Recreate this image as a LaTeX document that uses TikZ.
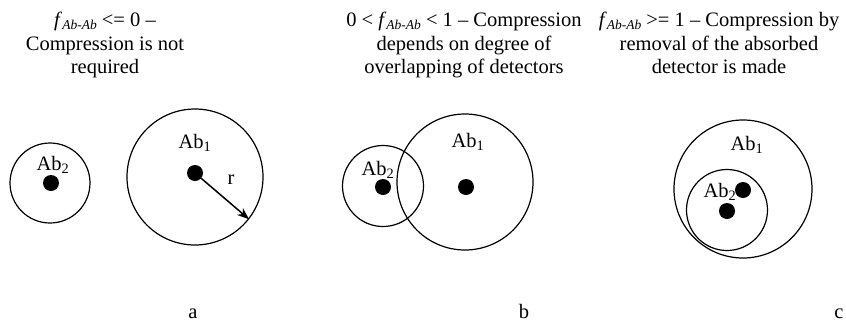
\documentclass[tikz,border=0pt]{standalone}
\usepackage{fontspec}
\setmainfont{Liberation Serif}
\usetikzlibrary{arrows.meta,positioning}
\newcommand{\fab}{\textit{f}\raisebox{-3pt}{\fontsize{13.5}{13.5}\selectfont\itshape Ab-Ab}}
\newcommand{\abi}[1]{Ab\textsubscript{#1}}

\begin{document}
\begin{tikzpicture}[x=1pt, y=-1pt, font=\fontsize{20.5}{23.5}\selectfont,
  ring/.style={circle, draw, line width=1.2pt, inner sep=0pt},
  dot/.style={circle, fill=black, inner sep=0pt, minimum size=16pt},
  title/.style={align=center, anchor=north, inner sep=0pt},
  lab/.style={inner sep=0pt}]
\useasboundingbox (0,0) rectangle (846,322);
% titles
\node[title] (ta) at (105,12) {\fab{} <= 0 --\\Compression is not\\required};
\node[title] (tb) at (464,12) {0 < \fab{} < 1 -- Compression\\depends on degree of\\overlapping of detectors};
\node[title] (tc) at (719,12) {\fab{} >= 1 -- Compression by\\removal of the absorbed\\detector is made};
% a
\node[ring, minimum size=80pt] (sa) at (50,183) {};
\node[dot] (dsa) at (51,183) {};
\node[lab] (lsa) at (53,165) {\abi{2}};
\node[ring, minimum size=136pt] (ba) at (195,177) {};
\node[dot] (dba) at (195,173) {};
\node[lab] (lba) at (195,143) {\abi{1}};
\draw[line width=1.5pt, -{Stealth[length=12pt, width=9pt]}] (dba) -- (ba.-38);
\node[lab] (r) at (231,180) {r};
% b
\node[ring, minimum size=81pt] (sb) at (383,186) {};
\node[dot] (dsb) at (383,187) {};
\node[lab] (lsb) at (378,170) {\abi{2}};
\node[ring, minimum size=136pt] (bb) at (465,182) {};
\node[dot] (dbb) at (466,187) {};
\node[lab] (lbb) at (468,142) {\abi{1}};
% c
\node[ring, minimum size=138pt] (bc) at (743,189) {};
\node[ring, minimum size=81pt] (sc) at (727,210) {};
\node[dot] (dbc) at (743,190) {};
\node[dot] (dsc) at (727,211) {};
\node[lab] (lbc) at (747,145) {\abi{1}};
\node[lab] (lsc) at (720,192) {\abi{2}};
% panel letters
\node[anchor=base, inner sep=0pt] (pa) at (193,318) {a};
\node[anchor=base, inner sep=0pt] (pb) at (524,318) {b};
\node[anchor=base, inner sep=0pt] (pc) at (839,318) {c};
\end{tikzpicture}
\end{document}
